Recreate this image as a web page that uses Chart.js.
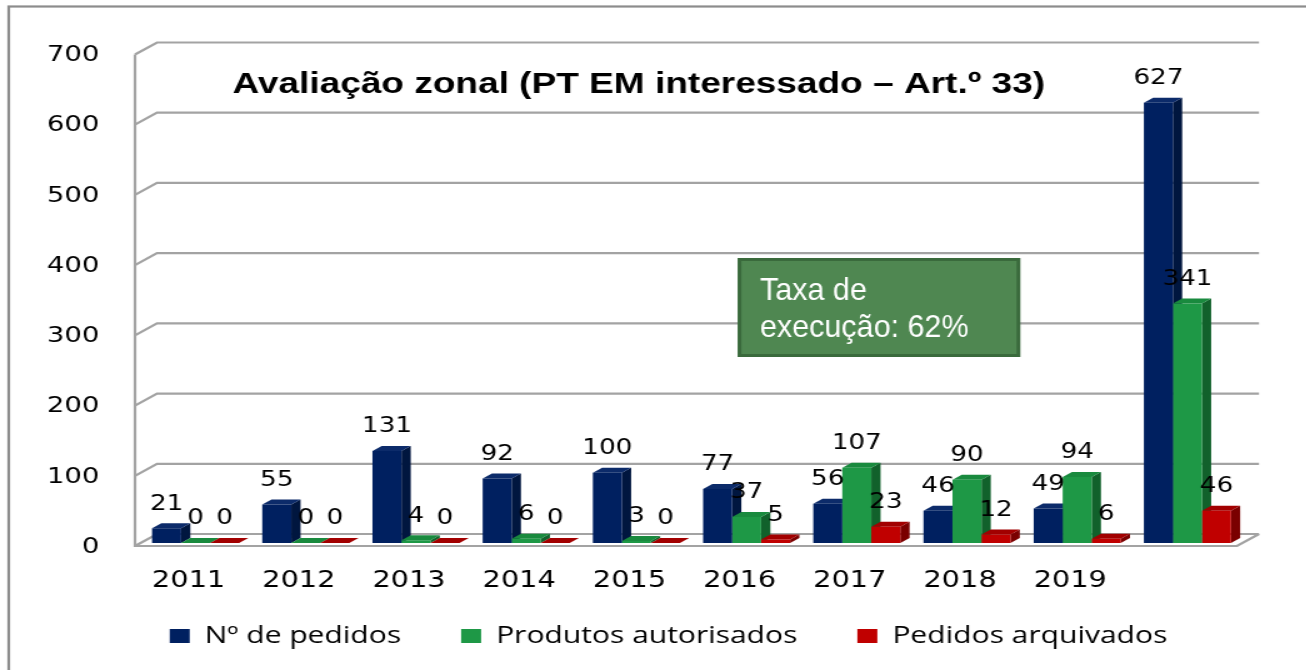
<!DOCTYPE html>
<html>
<head>
<meta charset="utf-8">
<script src="https://cdn.jsdelivr.net/npm/chart.js@4.4.1/dist/chart.umd.min.js"></script>
<style>
  html, body { margin: 0; padding: 0; background: #fff; overflow: hidden; }
  /* the source picture is stretched sideways, so the whole chart is drawn narrow and widened */
  #wrap { width: 1045px; height: 670px; transform: scaleX(1.25); transform-origin: 0 0; }
</style>
</head>
<body>
<div id="wrap"><canvas id="chart" width="1045" height="670"></canvas></div>
<script>
const years = ['2011', '2012', '2013', '2014', '2015', '2016', '2017', '2018', '2019', ''];
const pedidos = [21, 55, 131, 92, 100, 77, 56, 46, 49, 627];
const autorisados = [0, 0, 4, 6, 3, 37, 107, 90, 94, 341];
const arquivados = [0, 0, 0, 0, 0, 5, 23, 12, 6, 46];
const yTicks = [0, 100, 200, 300, 400, 500, 600, 700];
const seriesNames = ['Nº de pedidos', 'Produtos autorisados', 'Pedidos arquivados'];
const titleText = 'Avaliação zonal (PT EM interessado – Art.º 33)';
const noteLines = ['Taxa de', 'execução: 62%'];

const palette = [
  { front: '#002060', side: '#00163f', top: '#0c2b6a' },
  { front: '#1e9846', side: '#11612b', top: '#198a3e' },
  { front: '#c00000', side: '#7a0000', top: '#a20000' },
];

// offsets of the front / back walls and of the bar depth, relative to the bar plane
const FRONT = { x: -4.4, y: 3 };
const BACK = { x: 13.2, y: -9 };
const BAR = { x: 7.4, y: -5 };

function poly(ctx, pts, fill) {
  ctx.beginPath();
  ctx.moveTo(pts[0][0], pts[0][1]);
  for (let i = 1; i < pts.length; i++) ctx.lineTo(pts[i][0], pts[i][1]);
  ctx.closePath();
  ctx.fillStyle = fill;
  ctx.fill();
}

const threeD = {
  id: 'threeD',
  beforeDraw(chart) {
    const ctx = chart.ctx;
    ctx.save();
    ctx.strokeStyle = '#8c8c8c';
    ctx.lineWidth = 2.2;
    ctx.strokeRect(7, 6.5, 1200, 800);
    ctx.restore();
  },
  beforeDatasetsDraw(chart) {
    const ctx = chart.ctx;
    const { left, right } = chart.chartArea;
    const y = chart.scales.y;
    const y0 = y.getPixelForValue(0);
    const yMax = y.getPixelForValue(yTicks[yTicks.length - 1]);
    ctx.save();
    ctx.strokeStyle = '#a3a3a3';
    ctx.lineWidth = 2.2;
    yTicks.forEach(v => {
      const py = y.getPixelForValue(v);
      ctx.beginPath();
      ctx.moveTo(left + FRONT.x, py + FRONT.y);
      ctx.lineTo(left + BACK.x, py + BACK.y);
      ctx.lineTo(right + BACK.x, py + BACK.y);
      ctx.stroke();
    });
    ctx.beginPath();
    ctx.moveTo(left + FRONT.x, yMax + FRONT.y);
    ctx.lineTo(left + FRONT.x, y0 + FRONT.y);
    ctx.lineTo(right + FRONT.x, y0 + FRONT.y);
    ctx.lineTo(right + BACK.x, y0 + BACK.y);
    ctx.stroke();

    // side and top faces; the fronts come from Chart.js afterwards
    for (let j = 0; j < years.length; j++) {
      chart.data.datasets.forEach((ds, i) => {
        const bar = chart.getDatasetMeta(i).data[j];
        const { x, y: top, base, width } = bar.getProps(['x', 'y', 'base', 'width'], true);
        const l = x - width / 2, r = x + width / 2;
        poly(ctx, [[r, top], [r + BAR.x, top + BAR.y], [r + BAR.x, base + BAR.y], [r, base]], palette[i].side);
        poly(ctx, [[l, top], [l + BAR.x, top + BAR.y], [r + BAR.x, top + BAR.y], [r, top]], palette[i].top);
      });
    }
    ctx.restore();
  },
  afterDatasetsDraw(chart) {
    const ctx = chart.ctx;
    ctx.save();
    // value labels
    ctx.fillStyle = '#000';
    ctx.font = '21px "DejaVu Sans"';
    ctx.textAlign = 'center';
    ctx.textBaseline = 'middle';
    chart.data.datasets.forEach((ds, i) => {
      chart.getDatasetMeta(i).data.forEach((bar, j) => {
        ctx.fillText(String(ds.data[j]), bar.x, bar.y - 24);
      });
    });

    // category labels (drawn here so the axis box can stay short)
    const xs = chart.scales.x;
    ctx.font = '23px "DejaVu Sans"';
    ctx.textBaseline = 'alphabetic';
    years.forEach((lab, i) => {
      ctx.fillText(lab, xs.getPixelForTick(i) - 5.6, 587);
    });

    // title inside the plot
    ctx.font = 'bold 30px "Liberation Sans"';
    const tw = ctx.measureText(titleText).width;
    ctx.save();
    ctx.translate(511, 93);
    ctx.scale(650 / tw, 1);
    ctx.fillText(titleText, 0, 0);
    ctx.restore();

    // note box
    ctx.fillStyle = '#4f8751';
    ctx.fillRect(590.4, 258, 225.6, 99);
    ctx.strokeStyle = '#3a6a3c';
    ctx.lineWidth = 3;
    ctx.strokeRect(591.6, 259.5, 223.2, 96);
    ctx.fillStyle = '#fff';
    ctx.font = '30.5px "Liberation Sans"';
    ctx.textAlign = 'left';
    ctx.save();
    ctx.translate(608, 0);
    ctx.scale(0.8, 1);
    ctx.fillText(noteLines[0], 0, 300);
    ctx.fillText(noteLines[1], 0, 336.7);
    ctx.restore();
    ctx.restore();
  }
};

const seriesData = [pedidos, autorisados, arquivados];

new Chart(document.getElementById('chart'), {
  type: 'bar',
  data: {
    labels: years,
    datasets: seriesNames.map((name, i) => ({
      label: name,
      data: seriesData[i],
      backgroundColor: palette[i].front,
      borderWidth: 0,
      categoryPercentage: 0.79,
      barPercentage: 1,
    })),
  },
  options: {
    responsive: false,
    animation: false,
    layout: { padding: { left: 24.6, right: 0, top: 51.5, bottom: 12 } },
    scales: {
      x: {
        grid: { display: false, drawTicks: false },
        border: { display: false },
        ticks: { display: false },
        afterFit: s => { s.height = 33; },
      },
      y: {
        min: 0,
        max: 700,
        grid: { display: false, drawTicks: false },
        border: { display: false },
        ticks: {
          stepSize: 100,
          color: '#000',
          font: { family: 'DejaVu Sans', size: 22 },
          padding: 33,
          labelOffset: 4,
        },
        afterFit: s => { s.width = 87.8; },
      },
      yRight: {
        position: 'right',
        grid: { display: false, drawTicks: false },
        border: { display: false },
        ticks: { display: false },
        afterFit: s => { s.width = 51; },
      },
    },
    plugins: {
      legend: {
        position: 'bottom',
        labels: {
          boxWidth: 16,
          boxHeight: 14,
          padding: 48,
          color: '#000',
          font: { family: 'Open Sans', size: 24 },
        },
      },
      tooltip: { enabled: false },
    },
  },
  plugins: [threeD],
});
</script>
</body>
</html>
